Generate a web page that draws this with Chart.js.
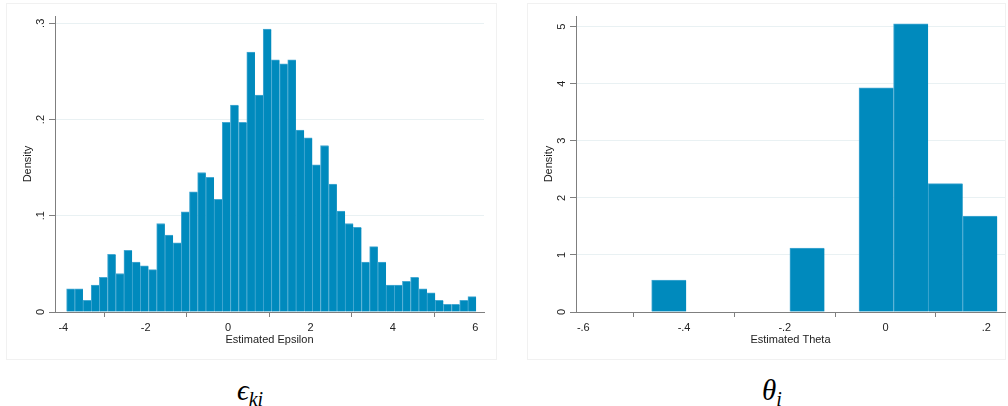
<!DOCTYPE html>
<html><head><meta charset="utf-8">
<script src="https://cdn.jsdelivr.net/npm/chart.js@4.4.1/dist/chart.umd.min.js"></script>
<style>
html,body{margin:0;padding:0;background:#fff;width:1008px;height:406px;overflow:hidden;}
.panel{position:absolute;border:1px solid #f1f1f1;box-sizing:border-box;}
canvas{position:absolute;top:0;}
.math{position:absolute;font-family:'Liberation Serif','DejaVu Serif',serif;font-style:italic;font-size:29px;line-height:29px;color:#000;text-align:center;width:120px;white-space:nowrap;}
.math sub{font-size:20px;vertical-align:-6px;line-height:0;}
</style></head><body>
<div class="panel" style="left:6px;top:3px;width:491px;height:357px"></div>
<div class="panel" style="left:527px;top:3px;width:479px;height:357px"></div>
<canvas id="c1" width="500" height="360" style="left:0"></canvas>
<canvas id="c2" width="488" height="360" style="left:520px"></canvas>
<div class="math" style="left:190px;top:376px">ϵ<sub>ki</sub></div>
<div class="math" style="left:712px;top:376px">θ<sub>i</sub></div>
<script>
// ---- data: left histogram (Estimated Epsilon) ----
const epsBinStart = -3.92;
const epsBinWidth = 0.1988;
const epsDensity = [0.024,0.024,0.012,0.028,0.036,0.060,0.040,0.064,0.052,0.048,
                    0.044,0.092,0.080,0.072,0.104,0.125,0.145,0.140,0.117,0.197,
                    0.215,0.197,0.270,0.2255,0.294,0.262,0.258,0.262,0.189,0.181,
                    0.153,0.173,0.133,0.105,0.092,0.088,0.052,0.068,0.052,0.028,
                    0.028,0.032,0.036,0.024,0.020,0.012,0.008,0.008,0.012,0.016];
const epsXTicks = [-4,-2,0,2,4,6];
const epsXTickLabels = ['-4','-2','0','2','4','6'];
const epsYTicks = [0,0.1,0.2,0.3];
const epsYTickLabels = ['0','.1','.2','.3'];

// ---- data: right histogram (Estimated Theta) ----
const thetaBinStart = -0.4643;
const thetaBinWidth = 0.0686;
const thetaDensity = [0.56,0,0,0,1.12,0,3.93,5.05,2.25,1.68];
const thetaXTicks = [-0.6,-0.4,-0.2,0,0.2];
const thetaXTickLabels = ['-.6','-.4','-.2','0','.2'];
const thetaYTicks = [0,1,2,3,4,5];
const thetaYTickLabels = ['0','1','2','3','4','5'];

const FONT = '"Liberation Sans", Arial, sans-serif';
const AXIS = '#7f7f7f';
const TXT = '#222';

function makeChart(id, cfg){
  const bars = cfg.density.map((d,i)=>({x: cfg.binStart + cfg.binWidth*(i+0.5), y: d}));
  const textPlugin = {
    id:'axisText',
    afterDraw(chart){
      const {ctx, chartArea, scales:{x,y}} = chart;
      ctx.save();
      ctx.fillStyle = TXT;
      ctx.font = '11px ' + FONT;
      ctx.textAlign = 'center';
      ctx.textBaseline = 'middle';
      cfg.yTicks.forEach((v,i)=>{
        const py = y.getPixelForValue(v);
        ctx.save();
        ctx.translate(chartArea.left - 14, py);
        ctx.rotate(-Math.PI/2);
        ctx.fillText(cfg.yLabels[i], 0, 0);
        ctx.restore();
      });
      ctx.save();
      ctx.translate(chartArea.left - 27, (chartArea.top + chartArea.bottom)/2);
      ctx.rotate(-Math.PI/2);
      ctx.fillText('Density', 0, 0);
      ctx.restore();
      ctx.fillText(cfg.xTitle, (chartArea.left + chartArea.right)/2, chartArea.bottom + 28);
      ctx.restore();
    }
  };
  return new Chart(document.getElementById(id), {
    type:'bar',
    data:{datasets:[{
      data: bars,
      backgroundColor:(c)=> (c.raw && c.raw.y > 0) ? '#008abd' : 'rgba(0,0,0,0)',
      borderColor:'#46a9d3',
      borderWidth:(c)=> (c.raw && c.raw.y > 0) ? {top:1,left:1,right:0,bottom:0} : 0,
      borderSkipped:'bottom',
      barPercentage:1,
      categoryPercentage:1
    }]},
    options:{
      responsive:false,
      animation:false,
      devicePixelRatio:1,
      layout:{padding:{left:0,right:cfg.padRight,top:16,bottom:0}},
      plugins:{legend:{display:false},tooltip:{enabled:false}},
      scales:{
        x:{
          type:'linear', min:cfg.xMin, max:cfg.xMax, offset:false,
          afterBuildTicks:(s)=>{ s.ticks = cfg.xTicks.map(v=>({value:v})); },
          afterFit:(s)=>{ s.height = 48; },
          ticks:{
            callback:(v,i)=> cfg.xLabels[i],
            font:{family:FONT,size:11}, color:TXT, padding:4,
            maxRotation:0, minRotation:0, autoSkip:false
          },
          grid:{drawOnChartArea:false, drawTicks:true, tickLength:5, tickColor:AXIS, color:AXIS},
          border:{display:true, color:AXIS, width:1}
        },
        y:{
          type:'linear', min:0, max:cfg.yMax,
          afterBuildTicks:(s)=>{ s.ticks = cfg.yTicks.map(v=>({value:v})); },
          afterFit:(s)=>{ s.width = cfg.yAxisWidth; },
          ticks:{display:false},
          grid:{color:'#e9f1f3', tickLength:6, tickColor:AXIS, lineWidth:1},
          border:{display:true, color:AXIS, width:1}
        }
      }
    },
    plugins:[textPlugin]
  });
}

makeChart('c1', {
  density:epsDensity, binStart:epsBinStart, binWidth:epsBinWidth,
  xTicks:epsXTicks, xLabels:epsXTickLabels, yTicks:epsYTicks, yLabels:epsYTickLabels,
  xMin:-4.2015, xMax:6.211, yMax:0.3076, xTitle:'Estimated Epsilon',
  yAxisWidth:55, padRight:16
});
makeChart('c2', {
  density:thetaDensity, binStart:thetaBinStart, binWidth:thetaBinWidth,
  xTicks:thetaXTicks, xLabels:thetaXTickLabels, yTicks:thetaYTicks, yLabels:thetaYTickLabels,
  xMin:-0.6145, xMax:0.2371, yMax:5.187, xTitle:'Estimated Theta',
  yAxisWidth:56, padRight:3
});
</script>
</body></html>
